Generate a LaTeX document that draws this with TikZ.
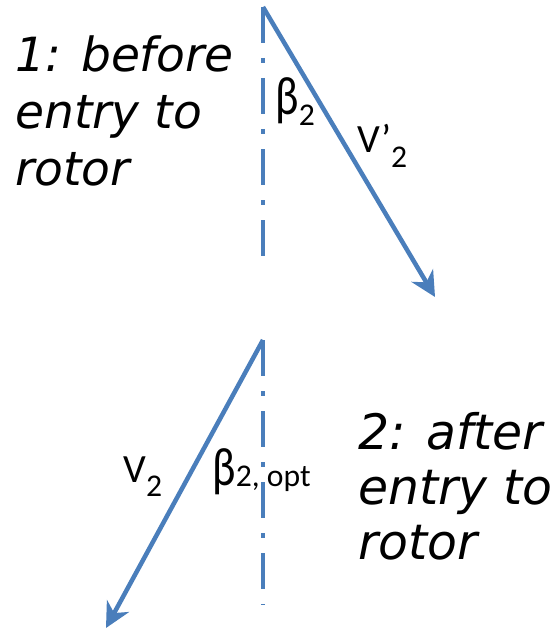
\documentclass[tikz,border=0pt]{standalone}
\usepackage{fontspec}
\usepackage{xcolor}
\usetikzlibrary{arrows.meta}
\newfontfamily\notefont{DejaVu Sans}
\newfontfamily\labelfont{Carlito}
\definecolor{vecblue}{RGB}{74,126,187}
\newcommand{\lowsub}[2]{\raisebox{-#1}{\fontsize{18pt}{20pt}\selectfont #2}}
\newcommand{\bigbeta}{\scalebox{1.1}[1.35]{β}}

\begin{document}
\begin{tikzpicture}[
  x=0.2mm, y=-0.2mm,
  vec/.style={draw=vecblue, line width=0.9mm,
              -{Stealth[length=5mm, width=5mm, inset=1.6mm]}},
  axis/.style={draw=vecblue, line width=0.8mm,
               dash pattern=on 7.2mm off 3mm on 1mm off 3mm},
  note/.style={anchor=north west, inner sep=0pt, align=left,
               font=\notefont\itshape\fontsize{26.8pt}{32.4pt}\selectfont},
  lab/.style={anchor=base west, inner sep=0pt,
              font=\labelfont\fontsize{22.8pt}{26pt}\selectfont}
]
\useasboundingbox (0,0) rectangle (554,632);
% before entry
\coordinate (top1) at (263,7);
\coordinate (tip1) at (435,297);
\coordinate (axend1) at (263,271);
\draw[axis] (top1) -- (axend1);
\draw[vec] (top1) -- (tip1);
\node[note] (before) at (15,35) {1: before\\entry to\\rotor};
\node[lab] (beta1) at (275,115) {\bigbeta\lowsub{5.7pt}{2}};
\node[lab] (vrel1) at (357,153) {V’\lowsub{8pt}{2}};
% after entry
\coordinate (top2) at (263,340);
\coordinate (tip2) at (106,628);
\coordinate (axend2) at (263,605);
\draw[axis] (top2) -- (axend2);
\draw[vec] (top2) -- (tip2);
\node[note, font=\notefont\itshape\fontsize{27.8pt}{31.3pt}\selectfont]
  (after) at (358,412) {2: after\\entry to\\rotor};
\node[lab] (vrel2) at (123,482) {V\lowsub{8.5pt}{2}};
\node[lab] (beta2) at (212,485) {\bigbeta\lowsub{1.1pt}{2, opt}};
\end{tikzpicture}
\end{document}
